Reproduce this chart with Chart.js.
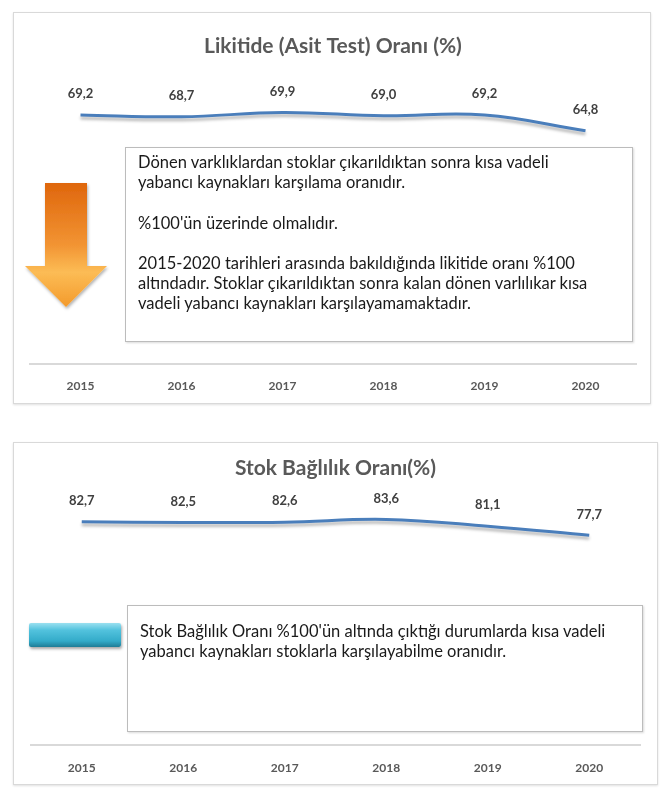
<!DOCTYPE html>
<html>
<head>
<meta charset="utf-8">
<script src="https://cdn.jsdelivr.net/npm/chart.js@4.4.1/dist/chart.umd.min.js"></script>
<style>
	body { margin: 0; background: #ffffff; font-family: Lato, "Open Sans", sans-serif; }
	.frame { position: absolute; box-sizing: border-box; border: 1px solid #d9d9d9; box-shadow: 0 1px 2px rgba(0,0,0,0.12); background: #fff; }
	.holder { position: absolute; }
	.note { position: absolute; box-sizing: border-box; border: 1px solid #bcbcbc; background: #fff; box-shadow: 1px 1px 2px rgba(0,0,0,0.15);
		font-family: Lato, sans-serif; font-size: 16.5px; line-height: 20.2px; color: #1a1a1a; padding-left: 12px; white-space: nowrap; }
	#arrow { position: absolute; left: 20px; top: 178px; }
	#bar { position: absolute; left: 29px; top: 623px; width: 92px; height: 24px; border-radius: 2px;
		background: linear-gradient(#9ae0f0 0%, #52c2dd 30%, #33abc9 75%, #1e7c96 100%);
		box-shadow: 1px 2px 3px rgba(0,0,0,0.35); }
</style>
</head>
<body>

<div class="frame" style="left:13px; top:12px; width:638px; height:392px;"></div>
<div class="holder" style="left:13px; top:12px; width:638px; height:402px;"><canvas id="likiditeChart"></canvas></div>

<div class="frame" style="left:13px; top:442px; width:645px; height:343px;"></div>
<div class="holder" style="left:13px; top:442px; width:645px; height:355px;"><canvas id="stokChart"></canvas></div>

<div class="note" style="left:125px; top:147px; width:508px; height:195px; padding-top:4px;">
	Dönen varklıklardan stoklar çıkarıldıktan sonra kısa vadeli<br>
	yabancı kaynakları karşılama oranıdır.<br><br>
	%100'ün üzerinde olmalıdır.<br><br>
	2015-2020 tarihleri arasında bakıldığında likitide oranı %100<br>
	altındadır. Stoklar çıkarıldıktan sonra kalan dönen varlılıkar kısa<br>
	vadeli yabancı kaynakları karşılayamamaktadır.
</div>

<div class="note" style="left:127px; top:605px; width:516px; height:127px; padding-top:15px;">
	Stok Bağlılık Oranı %100'ün altında çıktığı durumlarda kısa vadeli<br>
	yabancı kaynakları stoklarla karşılayabilme oranıdır.
</div>

<svg id="arrow" width="95" height="140">
	<defs>
		<linearGradient id="orangeGrad" x1="0" y1="0" x2="0" y2="1">
			<stop offset="0%" stop-color="#df660c"/>
			<stop offset="50%" stop-color="#f29433"/>
			<stop offset="72%" stop-color="#fcbc55"/>
			<stop offset="100%" stop-color="#f39a2c"/>
		</linearGradient>
		<filter id="arrowShadow" x="-20%" y="-20%" width="140%" height="140%">
			<feDropShadow dx="1" dy="2" stdDeviation="1.5" flood-color="#000" flood-opacity="0.3"/>
		</filter>
	</defs>
	<polygon points="25,5 67,5 67,88 87,88 46,129 5,88 25,88" fill="url(#orangeGrad)" filter="url(#arrowShadow)"/>
</svg>

<div id="bar"></div>

<script>
	const years = ['2015', '2016', '2017', '2018', '2019', '2020'];
	const likiditeValues = [69.2, 68.7, 69.9, 69.0, 69.2, 64.8];
	const stokValues = [82.7, 82.5, 82.6, 83.6, 81.1, 77.7];
	const likiditeTitle = 'Likitide (Asit Test) Oranı (%)';
	const stokTitle = 'Stok Bağlılık Oranı(%)';

	//-----------------Plugins-------------------//
	const lineShadow = {
		id: 'lineShadow',
		beforeDatasetDraw(chart) {
			const ctx = chart.ctx;
			ctx.save();
			ctx.shadowColor = 'rgba(0,0,0,0.28)';
			ctx.shadowBlur = 3;
			ctx.shadowOffsetY = 3;
		},
		afterDatasetDraw(chart) {
			chart.ctx.restore();
		}
	};

	const valueLabels = {
		id: 'valueLabels',
		afterDatasetsDraw(chart) {
			const ctx = chart.ctx;
			const meta = chart.getDatasetMeta(0);
			const data = chart.data.datasets[0].data;
			ctx.save();
			ctx.font = 'bold 13px Lato, sans-serif';
			ctx.fillStyle = '#404040';
			ctx.textAlign = 'center';
			ctx.textBaseline = 'middle';
			meta.data.forEach((pt, i) => {
				ctx.fillText(data[i].toFixed(1).replace('.', ','), pt.x, pt.y - 21);
			});
			ctx.restore();
		}
	};
	//-----------------Plugins-------------------//

	function makeChart(id, title, values, o) {
		return new Chart(document.getElementById(id), {
			type: 'line',
			data: {
				labels: years,
				datasets: [{
					data: values,
					borderColor: '#4a7ebb',
					borderWidth: 3,
					pointRadius: 0,
					tension: 0.4,
					fill: false
				}]
			},
			options: {
				responsive: true,
				maintainAspectRatio: false,
				animation: false,
				layout: { padding: { left: o.left, right: o.right, top: 0, bottom: o.bottom } },
				plugins: {
					legend: { display: false },
					tooltip: { enabled: false },
					title: {
						display: true,
						text: title,
						color: '#595959',
						font: { family: 'Lato', size: 21, weight: 'bold' },
						padding: { top: o.titleTop, bottom: o.titleBottom }
					}
				},
				scales: {
					x: {
						offset: true,
						grid: { display: false, drawTicks: false },
						border: { display: true, color: '#d9d9d9', width: 2 },
						ticks: { color: '#595959', padding: o.tickPad, font: { family: 'Lato', size: 12, weight: 'bold' } }
					},
					y: {
						display: false,
						min: 0,
						max: o.max
					}
				}
			},
			plugins: [lineShadow, valueLabels]
		});
	}

	makeChart('likiditeChart', likiditeTitle, likiditeValues, { left: 17, right: 15, bottom: 6, tickPad: 15, titleTop: 22, titleBottom: 17, max: 80 });
	makeChart('stokChart', stokTitle, stokValues, { left: 18, right: 18, bottom: 6, tickPad: 16, titleTop: 14, titleBottom: 21, max: 90 });
</script>
</body>
</html>
